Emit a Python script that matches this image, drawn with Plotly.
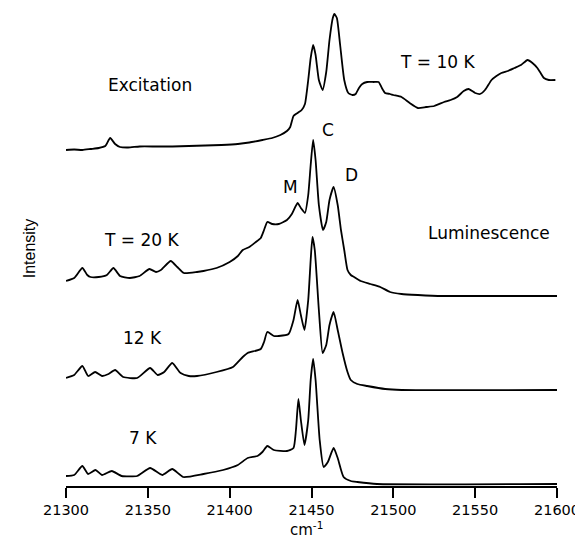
import plotly.graph_objects as go

# ---- Data (wavenumber in cm^-1, intensity in arbitrary units above each trace's baseline) ----
exc_wn = [21300, 21305, 21310, 21315, 21320, 21324, 21327, 21330, 21333, 21338, 21345, 21355, 21365,
          21375, 21385, 21395, 21405, 21412, 21420, 21426, 21431, 21435, 21437, 21439, 21441.5, 21444,
          21446, 21448, 21449.5, 21451, 21452.5, 21454.5, 21456.8, 21459, 21461, 21463, 21464, 21465.5,
          21467.5, 21470, 21472.5, 21475, 21477, 21479, 21481, 21484, 21488, 21491, 21493, 21495, 21498,
          21500, 21505, 21510, 21515, 21520, 21525, 21531, 21535, 21539, 21543, 21546, 21550, 21553,
          21556, 21560, 21563, 21566, 21570, 21574, 21578, 21582, 21585, 21588, 21590, 21592, 21595, 21599]
exc_py = [150, 149.5, 150, 149, 148, 146, 138, 144, 147, 147.5, 146.5, 146.5, 146.5,
          146, 145.5, 145, 144, 142.5, 140, 138, 135, 131, 127, 116, 113, 110,
          104, 80, 58, 45, 55, 80, 90, 72, 40, 18, 14, 18,
          45, 80, 93, 95, 94, 88, 84, 82, 82, 82, 88, 93, 94,
          95, 97, 103, 108, 107, 106, 102, 100, 97, 91, 89, 93, 94,
          90, 80, 76, 73, 71, 68, 65, 60, 63, 68, 73, 78, 80, 80]
exc_int = [150 - p for p in exc_py]

l20_wn = [21300, 21305, 21310, 21313, 21315, 21320, 21325, 21329, 21333, 21339, 21345, 21351, 21355,
          21358, 21364, 21368, 21372, 21380, 21384, 21392, 21400, 21405, 21408, 21412, 21416, 21419,
          21421, 21423, 21426, 21430, 21435, 21438, 21441.5, 21443.5, 21446, 21448, 21449.5, 21451,
          21452.5, 21454.5, 21457, 21459, 21461, 21463.5, 21466, 21468, 21470, 21472, 21474, 21476,
          21480, 21486, 21492, 21498, 21505, 21515, 21530, 21600]
l20_py = [281, 278, 268, 275, 277, 277, 275, 268, 276, 278, 276, 269, 272,
          270, 261, 267, 273, 272, 271, 268, 262, 256, 250, 247, 242, 238,
          230, 222, 224, 224, 220, 214, 203, 208, 213, 195, 165, 140,
          160, 205, 230, 222, 200, 187, 205, 230, 250, 270, 275, 277,
          281, 284, 287, 292, 294, 295, 296, 296]
l20_int = [296 - p for p in l20_py]

l12_wn = [21300, 21305, 21310, 21313.5, 21317.8, 21322, 21326, 21330, 21335, 21343.5, 21351.4, 21356,
          21360, 21364.9, 21370, 21375, 21380, 21392, 21402, 21408, 21411, 21419, 21421, 21423, 21427,
          21430, 21436, 21439, 21441.5, 21443.5, 21445.7, 21448, 21449.5, 21450.6, 21452, 21454.5,
          21456.8, 21459, 21461, 21463.5, 21466, 21469, 21472, 21474, 21478, 21484, 21495, 21505, 21600]
l12_py = [378, 375, 366, 376, 372, 376, 374, 370, 377, 378, 368, 375,
          372, 363, 373, 376, 376, 372, 367, 357, 353, 349, 342, 332, 336,
          336, 334, 320, 300, 315, 330, 300, 260, 237, 250, 310,
          353, 345, 325, 312, 330, 353, 372, 380, 384, 386, 389, 390, 390]
l12_int = [390 - p for p in l12_py]

l7_wn = [21300, 21305, 21310, 21313.5, 21318, 21322, 21328, 21334, 21343.5, 21351.4, 21358.8, 21364.9,
         21371.6, 21384, 21396, 21405, 21411, 21417, 21420, 21423, 21427, 21435, 21439, 21440.5, 21442,
         21443.5, 21445.7, 21448, 21449.5, 21451, 21452.5, 21455, 21457.4, 21460, 21463.5, 21466,
         21469.6, 21474, 21478, 21490, 21600]
l7_py = [476, 475, 466, 474, 470, 475, 471, 476, 476, 468, 475, 469,
         477, 474, 470, 465, 458, 456, 452, 446, 450, 451, 448, 430, 399,
         420, 445, 420, 380, 359, 380, 440, 467, 462, 448, 458,
         477, 481, 482, 484, 484]
l7_int = [484 - p for p in l7_py]

# vertical offsets of each trace's baseline (stacking)
offsets = {"exc": 336, "l20": 190, "l12": 96, "l7": 2}

tick_vals = [21300, 21350, 21400, 21450, 21500, 21550, 21600]
tick_text = ["21300", "21350", "21400", "21450", "21500", "21550", "21600"]

FONT = "DejaVu Sans"
AXFONT = "Liberation Sans"

fig = go.Figure()
for wn, inten, key in [(exc_wn, exc_int, "exc"), (l20_wn, l20_int, "l20"),
                       (l12_wn, l12_int, "l12"), (l7_wn, l7_int, "l7")]:
    fig.add_trace(go.Scatter(
        x=wn, y=[offsets[key] + v for v in inten], mode="lines",
        line=dict(color="black", width=1.8, shape="spline", smoothing=0.5),
        showlegend=False, hoverinfo="skip"))

labels = [
    ("Excitation", 21351.4, 401),
    ("T = 10 K", 21527, 424),
    ("C", 21459.8, 356),
    ("D", 21474.5, 311),
    ("M", 21437.2, 299),
    ("T = 20 K", 21345.9, 246),
    ("Luminescence", 21558.4, 253),
    ("12 K", 21347, 148),
    ("7 K", 21347, 48),
]
for text, x, y in labels:
    fig.add_annotation(x=x, y=y, text=text, showarrow=False,
                       font=dict(family=FONT, size=17, color="black"))

fig.add_annotation(xref="paper", yref="paper", x=-0.094, y=0.498, text="Intensity",
                   textangle=-90, showarrow=False,
                   font=dict(family=AXFONT, size=16, color="black"))

fig.add_annotation(xref="x", yref="paper", x=21447, y=-0.091, text="cm<sup>-1</sup>",
                   showarrow=False, yanchor="middle",
                   font=dict(family=FONT, size=15, color="black"))

# page body has an 8 px default margin: figure is sized/margined to compensate
fig.update_layout(
    width=575, height=533,
    margin=dict(l=58, r=26, t=0, b=55),
    paper_bgcolor="white", plot_bgcolor="white",
    xaxis=dict(range=[21300, 21600], tickvals=tick_vals, ticktext=tick_text,
               showgrid=False, zeroline=False, showline=True, linecolor="black",
               linewidth=1.5, ticks="outside", ticklen=10, tickwidth=1.5, tickcolor="black",
               tickfont=dict(family=FONT, size=14.5, color="black")),
    yaxis=dict(range=[0, 478], showgrid=False, zeroline=False, showline=False,
               showticklabels=False, ticks=""),
)

fig.write_html("out.html")
